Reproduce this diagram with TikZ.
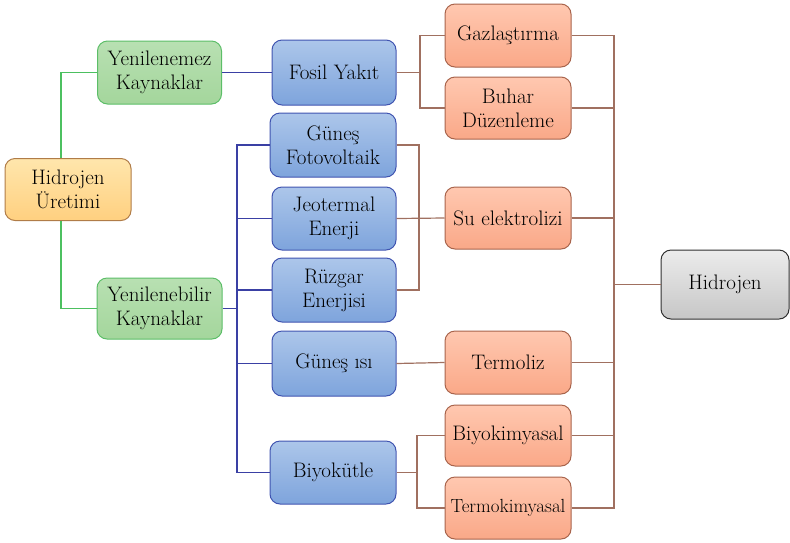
\documentclass[tikz,border=0pt]{standalone}
\usepackage{fontspec}
\begin{document}
\begin{tikzpicture}[x=1pt,y=-1pt,
  box/.style={rounded corners=10pt,align=center,inner sep=0pt,line width=1pt,
    font=\fontsize{21}{24}\selectfont,minimum width=125pt,minimum height=63pt},
  rootbox/.style={box,draw={rgb,255:red,176;green,124;blue,72},top color={rgb,255:red,255;green,230;blue,172},bottom color={rgb,255:red,255;green,208;blue,128}},
  srcbox/.style={box,draw={rgb,255:red,92;green,190;blue,104},top color={rgb,255:red,184;green,224;blue,178},bottom color={rgb,255:red,164;green,214;blue,156}},
  typebox/.style={box,draw={rgb,255:red,64;green,84;blue,176},top color={rgb,255:red,172;green,198;blue,234},bottom color={rgb,255:red,126;green,164;blue,220}},
  procbox/.style={box,draw={rgb,255:red,168;green,100;blue,76},top color={rgb,255:red,255;green,200;blue,176},bottom color={rgb,255:red,250;green,168;blue,136}},
  endbox/.style={box,draw={rgb,255:red,48;green,48;blue,48},top color={rgb,255:red,236;green,236;blue,236},bottom color={rgb,255:red,198;green,198;blue,198}},
  gline/.style={draw={rgb,255:red,76;green,192;blue,96},line width=1.2pt},
  bline/.style={draw={rgb,255:red,58;green,64;blue,164},line width=1.2pt},
  rline/.style={draw={rgb,255:red,160;green,112;blue,96},line width=1.2pt}]
\useasboundingbox (0,0) rectangle (790,542);

% bus coordinates
\coordinate (gbus) at (61,0);
\coordinate (bbus) at (237,0);
\coordinate (fbus) at (420,0);
\coordinate (sbus) at (419,0);
\coordinate (kbus) at (417,0);
\coordinate (rbus) at (614,0);

% nodes
\node[rootbox,minimum width=126pt,minimum height=62pt] (ure) at (68,189.5) {Hidrojen\\Üretimi};
\node[srcbox,minimum width=124pt] (yne) at (159.5,72.5) {Yenilenemez\\Kaynaklar};
\node[srcbox,minimum height=61pt] (ynb) at (159.5,308.5) {Yenilenebilir\\Kaynaklar};

\node[typebox,minimum width=124pt,minimum height=65pt] (fos) at (334,72.5) {Fosil Yakıt};
\node[typebox,minimum width=126pt,minimum height=64pt] (gpv) at (333,145) {Güneş\\Fotovoltaik};
\node[typebox,minimum width=124pt] (jeo) at (334,218.5) {Jeotermal\\Enerji};
\node[typebox,minimum width=124pt,minimum height=64pt] (ruz) at (334,290) {Rüzgar\\Enerjisi};
\node[typebox,minimum width=124pt,minimum height=65pt] (gis) at (334,363.5) {Güneş ısı};
\node[typebox,minimum width=126pt] (bio) at (333,472.5) {Biyokütle};

\node[procbox,minimum width=126pt] (gaz) at (508,35.5) {Gazlaştırma};
\node[procbox,minimum width=126pt,minimum height=62pt] (buh) at (508,108) {Buhar\\Düzenleme};
\node[procbox,minimum width=126pt,minimum height=62pt] (sue) at (508,218) {Su elektrolizi};
\node[procbox,minimum width=126pt] (ter) at (508,362.5) {Termoliz};
\node[procbox,minimum width=126pt,minimum height=61pt] (bki) at (508,435.5) {Biyokimyasal};
\node[procbox,minimum width=126pt,minimum height=62pt,font=\fontsize{19}{22}\selectfont] (tki) at (508,508) {Termokimyasal};

\node[endbox,minimum width=128pt,minimum height=69pt] (hid) at (725,284.5) {Hidrojen};

% connectors
\path[gline] (yne.west) -| (gbus |- ure.north);
\path[gline] (ynb.west) -| (gbus |- ure.south);

\path[bline] (yne.east) -- (fos.west);
\path[bline] (ynb.east) -- (bbus |- ynb.east);
\path[bline] (gpv.west) -| (bbus |- bio.west) -- (bio.west);
\path[bline] (bbus |- jeo.west) -- (jeo.west);
\path[bline] (bbus |- ruz.west) -- (ruz.west);
\path[bline] (bbus |- gis.west) -- (gis.west);

\path[rline] (fos.east) -- (fbus |- fos.east);
\path[rline] (gaz.west) -| (fbus |- buh.west) -- (buh.west);
\path[rline] (gpv.east) -| (sbus |- ruz.east) -- (ruz.east);
\path[rline] (jeo.east) -- (sue.west);
\path[rline] (gis.east) -- (ter.west);
\path[rline] (bio.east) -- (kbus |- bio.east);
\path[rline] (bki.west) -| (kbus |- tki.west) -- (tki.west);

\path[rline] (gaz.east) -| (rbus |- tki.east) -- (tki.east);
\path[rline] (buh.east) -- (rbus |- buh.east);
\path[rline] (sue.east) -- (rbus |- sue.east);
\path[rline] (ter.east) -- (rbus |- ter.east);
\path[rline] (bki.east) -- (rbus |- bki.east);
\path[rline] (rbus |- hid.west) -- (hid.west);
\end{tikzpicture}
\end{document}
